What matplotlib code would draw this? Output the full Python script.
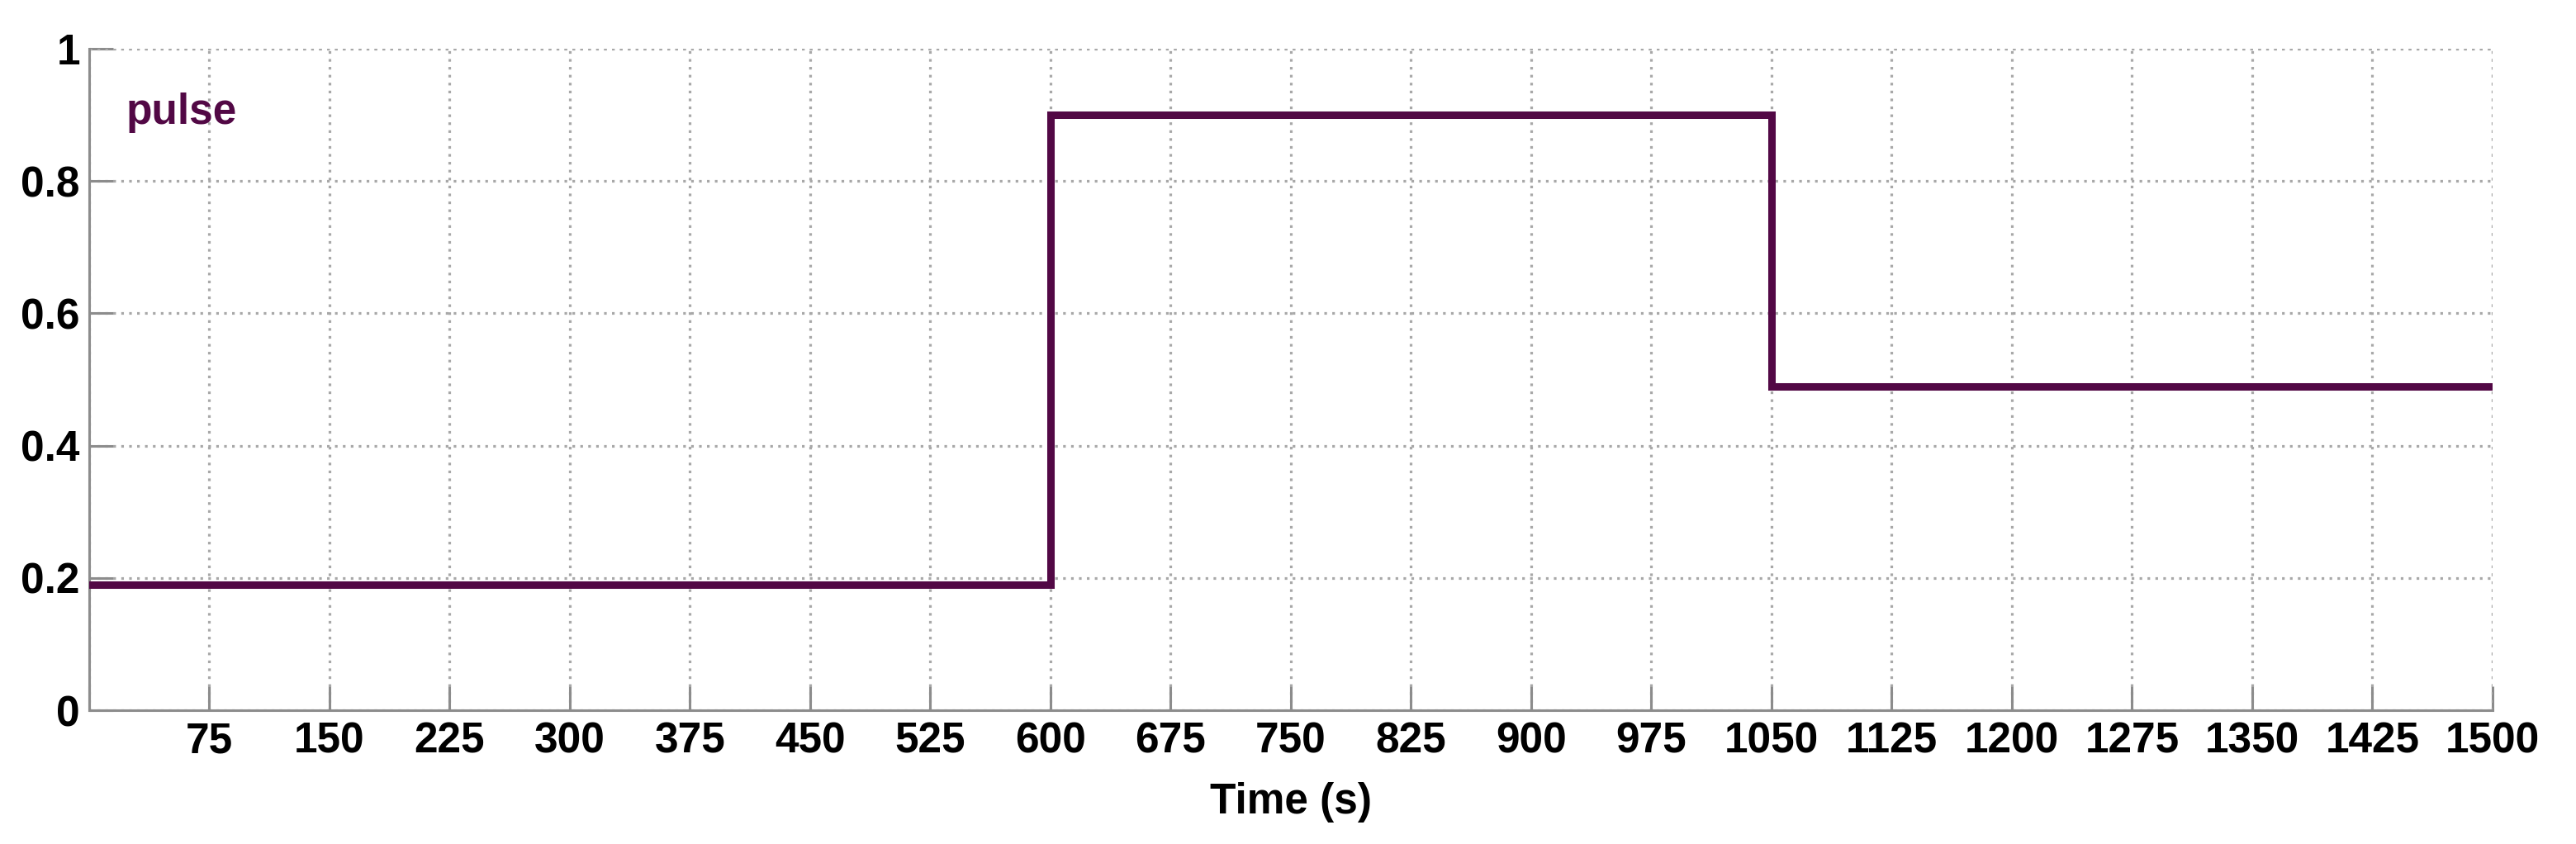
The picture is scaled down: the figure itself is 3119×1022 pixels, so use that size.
import matplotlib
matplotlib.use("Agg")
import matplotlib.pyplot as plt

# step signal: level holds from each time until the next one
step_times = [0, 600, 1050, 1500]
step_levels = [0.19, 0.9, 0.49, 0.49]

x_ticks = list(range(75, 1501, 75))
y_ticks = [0, 0.2, 0.4, 0.6, 0.8, 1.0]
y_tick_labels = ["0", "0.2", "0.4", "0.6", "0.8", "1"]

LINE_COLOR = "#520845"
AXIS_GRAY = "#8c8c8c"
GRID_GRAY = "#a8a8a8"

plt.rcParams["font.family"] = ["Liberation Sans", "DejaVu Sans"]
plt.rcParams["font.weight"] = "bold"

fig = plt.figure(figsize=(31.19, 10.22), dpi=100)
ax = fig.add_axes([0.0346, 0.1585, 0.9330, 0.7838])

ax.step(step_times, step_levels, where="post", color=LINE_COLOR,
        linewidth=6.5, solid_joinstyle="miter", zorder=3)

ax.set_xlim(0, 1500)
ax.set_ylim(0, 1)
ax.set_xticks([0] + x_ticks)
ax.set_xticklabels([""] + [str(t) for t in x_ticks])
ax.set_yticks(y_ticks)
ax.set_yticklabels(y_tick_labels)

ax.grid(True, color=GRID_GRAY, linestyle=(0, (1, 2)), linewidth=2.3)
ax.set_axisbelow(True)

for side in ("top", "right"):
    ax.spines[side].set_visible(False)
for side in ("left", "bottom"):
    ax.spines[side].set_color(AXIS_GRAY)
    ax.spines[side].set_linewidth(2.2)

ax.tick_params(axis="both", direction="in", length=21, width=2.2,
               color=AXIS_GRAY, labelsize=37, labelcolor="black")
ax.tick_params(axis="y", pad=8)
ax.tick_params(axis="x", pad=10)

# grid lines at the far edges stand in for the top/right frame
ax.axhline(1.0, color=GRID_GRAY, linestyle=(0, (1, 2)), linewidth=2.3, zorder=1)
ax.axvline(1500, color=GRID_GRAY, linestyle=(0, (1, 2)), linewidth=2.3, zorder=1)

ax.set_xlabel("Time (s)", fontsize=37, fontweight="bold", labelpad=17)
ax.text(0.0155, 0.903, "pulse", transform=ax.transAxes, color=LINE_COLOR,
        fontsize=37, fontweight="bold", ha="left", va="center")

fig.savefig("out.png", dpi=100)
